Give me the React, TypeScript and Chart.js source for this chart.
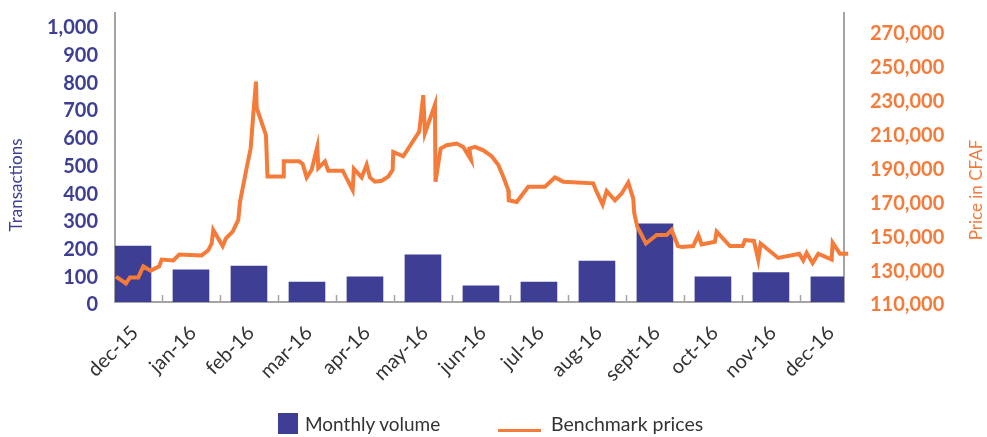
import React, { useEffect, useRef } from "react";
import { Chart, registerables } from "chart.js";

Chart.register(...registerables);

const months = ["dec-15", "jan-16", "feb-16", "mar-16", "apr-16", "may-16", "jun-16", "jul-16", "aug-16", "sept-16", "oct-16", "nov-16", "dec-16"];
const monthlyVolume = [202, 116, 130, 72, 91, 170, 58, 72, 148, 282, 91, 106, 91];
const volumeTicks = [0, 100, 200, 300, 400, 500, 600, 700, 800, 900, 1000];
const priceTicks = [110000, 130000, 150000, 170000, 190000, 210000, 230000, 250000, 270000];

// position of each benchmark price along the month axis (0 = dec-15, 12 = dec-16)
const priceDates = [
  -0.293, -0.121, -0.052, 0.091, 0.178, 0.305, 0.453, 0.495, 0.695, 0.798,
  1.184, 1.298, 1.357, 1.384, 1.547, 1.603, 1.719, 1.816, 1.845, 1.971,
  2.029, 2.074, 2.121, 2.133, 2.293, 2.319, 2.591, 2.6, 2.867, 2.926,
  2.995, 3.081, 3.178, 3.195, 3.31, 3.367, 3.616, 3.788, 3.81, 3.943,
  4.029, 4.086, 4.172, 4.288, 4.402, 4.478, 4.488, 4.66, 4.936, 5.005,
  5.034, 5.207, 5.216, 5.305, 5.409, 5.581, 5.695, 5.828, 5.799, 5.897,
  6.04, 6.184, 6.298, 6.384, 6.471, 6.48, 6.616, 6.816, 7.103, 7.276,
  7.419, 7.936, 7.983, 8.098, 8.167, 8.31, 8.426, 8.54, 8.626, 8.643,
  8.695, 8.845, 9.029, 9.202, 9.288, 9.397, 9.466, 9.66, 9.747, 9.805,
  10.034, 10.064, 10.293, 10.512, 10.552, 10.707, 10.781, 10.822, 11.126, 11.488,
  11.557, 11.616, 11.719, 11.816, 12.047, 12.064, 12.19, 12.333,
];
const benchmarkPrices = [
  125000, 121000, 124500, 124500, 131000, 128500, 131000, 135000, 134500, 138000,
  137500, 140500, 144500, 152500, 143000, 147500, 151500, 158500, 169000, 191000,
  200500, 220500, 240000, 224500, 208500, 184000, 184000, 193000, 193000, 191500,
  183500, 188000, 201500, 189000, 193000, 187500, 187500, 176000, 188500, 183500,
  191000, 183500, 181000, 181500, 184000, 188000, 198500, 196000, 210500, 232000,
  209500, 226500, 181000, 200500, 202500, 203500, 201500, 194000, 200500, 201500,
  199500, 196000, 191000, 184000, 176000, 170000, 169000, 178000, 178000, 183500,
  181000, 180000, 176000, 167500, 175500, 170000, 174000, 180500, 171000, 162500,
  154500, 144500, 149500, 149500, 152500, 143000, 142500, 143000, 149500, 144000,
  145500, 151500, 143000, 143000, 146500, 146000, 135000, 144500, 136000, 138500,
  134500, 139000, 133000, 138500, 135000, 145000, 138500, 138500,
];

const BLUE = "#3E3F94";
const ORANGE = "#F47B3A";
const AXIS = "#A4A4A4";
const FONT = "Lato, 'Open Sans', sans-serif";

const decorPlugin = {
  id: "decor",
  afterDraw(chart: any) {
    const { ctx, chartArea, scales } = chart;
    ctx.save();
    // inward tick marks between months
    ctx.strokeStyle = AXIS;
    ctx.lineWidth = 1.5;
    for (let i = 0; i < months.length - 1; i++) {
      const px = Math.round(scales.x.getPixelForValue(i + 0.5)) + 0.5;
      ctx.beginPath();
      ctx.moveTo(px, chartArea.bottom - 7);
      ctx.lineTo(px, chartArea.bottom);
      ctx.stroke();
    }
    // axis titles
    ctx.textAlign = "center";
    ctx.textBaseline = "middle";
    ctx.font = `17px ${FONT}`;
    ctx.fillStyle = BLUE;
    ctx.save();
    ctx.translate(17, 185);
    ctx.rotate(-Math.PI / 2);
    ctx.fillText("Transactions", 0, 0);
    ctx.restore();
    ctx.fillStyle = ORANGE;
    ctx.save();
    ctx.translate(977, 190);
    ctx.rotate(-Math.PI / 2);
    ctx.fillText("Price in CFAF", 0, 0);
    ctx.restore();
    ctx.restore();
  },
};

const noPad = (s: any) => {
  s.paddingTop = 0;
  s.paddingBottom = 0;
  s.paddingLeft = 0;
  s.paddingRight = 0;
};

export default function App() {
  const ref = useRef<HTMLCanvasElement>(null);

  useEffect(() => {
    if (!ref.current) return;
    const chart = new Chart(ref.current, {
      data: {
        datasets: [
          {
            type: "bar",
            label: "Monthly volume",
            data: monthlyVolume.map((v, i) => ({ x: i, y: v })),
            backgroundColor: BLUE,
            barThickness: 36,
            xAxisID: "x",
            yAxisID: "y",
            order: 1,
            clip: 0,
          } as any,
          {
            type: "line",
            label: "Benchmark prices",
            data: priceDates.map((d, i) => ({ x: d, y: benchmarkPrices[i] })),
            borderColor: ORANGE,
            backgroundColor: ORANGE,
            borderWidth: 4,
            pointRadius: 0,
            tension: 0,
            xAxisID: "x",
            yAxisID: "y1",
            order: 0,
            clip: false,
          } as any,
        ],
      },
      options: {
        animation: false,
        responsive: false,
        layout: { padding: { top: 13, left: 0, right: 0, bottom: 0 } },
        plugins: { legend: { display: false }, tooltip: { enabled: false } },
        scales: {
          x: {
            type: "linear",
            offset: false,
            min: -0.31,
            max: 12.26,
            afterBuildTicks: (s: any) => {
              s.ticks = months.map((_, i) => ({ value: i }));
            },
            afterFit: (s: any) => {
              s.height = 135;
              noPad(s);
            },
            grid: { display: false, drawTicks: false, offset: false },
            border: { display: true, color: AXIS, width: 2 },
            ticks: {
              autoSkip: false,
              maxRotation: 45,
              minRotation: 45,
              padding: 19,
              labelOffset: 2,
              color: "#333333",
              font: { family: FONT, size: 20 },
              callback: (v: any) => months[Math.round(Number(v))] ?? "",
            },
          },
          y: {
            type: "linear",
            position: "left",
            min: 0,
            max: 1043,
            afterBuildTicks: (s: any) => {
              s.ticks = volumeTicks.map((v) => ({ value: v }));
            },
            afterFit: (s: any) => {
              s.width = 115;
              noPad(s);
            },
            grid: { display: false, drawTicks: false },
            border: { display: true, color: AXIS, width: 2 },
            ticks: {
              autoSkip: false,
              padding: 17,
              labelOffset: 3,
              color: BLUE,
              font: { family: FONT, size: 20, weight: "bold" },
              callback: (v: any) => Number(v).toLocaleString("en-US"),
            },
          },
          y1: {
            type: "linear",
            position: "right",
            min: 110000,
            max: 280500,
            afterBuildTicks: (s: any) => {
              s.ticks = priceTicks.map((v) => ({ value: v }));
            },
            afterFit: (s: any) => {
              s.width = 143;
              noPad(s);
            },
            grid: { display: false, drawTicks: false },
            border: { display: true, color: AXIS, width: 2 },
            ticks: {
              autoSkip: false,
              padding: 26,
              labelOffset: 3,
              color: ORANGE,
              font: { family: FONT, size: 20, weight: "bold" },
              callback: (v: any) => Number(v).toLocaleString("en-US"),
            },
          },
        },
      } as any,
      plugins: [decorPlugin],
    });
    (document as any).fonts?.ready?.then(() => chart.update());
    return () => chart.destroy();
  }, []);

  return (
    <div style={{ position: "absolute", left: 0, top: 0, width: 987, height: 437, background: "#fff" }}>
      <canvas ref={ref} width={987} height={437} style={{ display: "block" }} />
      <div style={{ position: "absolute", left: 278, top: 413, width: 20, height: 21, background: BLUE }} />
      <div style={{ position: "absolute", left: 305, top: 412, fontFamily: FONT, fontSize: 19, color: "#333", lineHeight: "24px", whiteSpace: "nowrap" }}>
        Monthly volume
      </div>
      <div style={{ position: "absolute", left: 498, top: 429, width: 43, height: 3, background: ORANGE }} />
      <div style={{ position: "absolute", left: 551, top: 412, fontFamily: FONT, fontSize: 19.5, color: "#333", lineHeight: "24px", whiteSpace: "nowrap" }}>
        Benchmark prices
      </div>
    </div>
  );
}
